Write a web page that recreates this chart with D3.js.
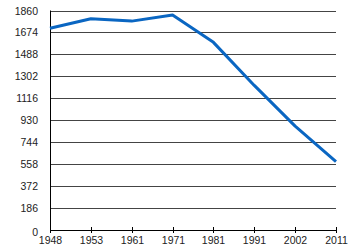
<!DOCTYPE html>
<html>
<head>
<meta charset="utf-8">
<script src="https://cdn.jsdelivr.net/npm/d3@7"></script>
<style>
	body { margin: 0; background: white; }
	text { font-family: "Liberation Sans", Arial, sans-serif; font-size: 10.5px; fill: #222; }
</style>
</head>
<body>
<div id="chart"></div>
<script>
// Census years and population values.
let years = ["1948", "1953", "1961", "1971", "1981", "1991", "2002", "2011"];
let population = [1710, 1790, 1770, 1822, 1590, 1225, 880, 580];
let yticks = [0, 186, 372, 558, 744, 930, 1116, 1302, 1488, 1674, 1860];


let width = 350, height = 250;
let margin = {top: 10.5, right: 14, bottom: 20, left: 50};

let svg = d3.select("#chart")
  .append("svg")
	.attr("width", width)
	.attr("height", height);

let x = d3.scalePoint()
  .domain(years)
  .range([margin.left, width - margin.right]);

let y = d3.scaleLinear()
  .domain([0, 1860])
  .range([height - margin.bottom, margin.top]);


// Horizontal gridlines.
svg.append("g")
	.selectAll("line")
	.data(yticks.filter(d=>d>0))
	.enter()
	.append("line")
	  .attr("x1", margin.left)
	  .attr("x2", width - margin.right)
	  .attr("y1", d=>Math.round(y(d)) + 0.5)
	  .attr("y2", d=>Math.round(y(d)) + 0.5)
	  .attr("stroke", "#444")
	  .attr("stroke-width", 1);


// Y axis labels.
svg.append("g")
	.selectAll("text")
	.data(yticks)
	.enter()
	.append("text")
	  .attr("x", 38)
	  .attr("y", d=>y(d) + (d==0 ? 6 : 4))
	  .attr("text-anchor", "end")
	  .text(d=>d);


// Axis lines.
svg.append("line")
	.attr("x1", margin.left + 0.5).attr("x2", margin.left + 0.5)
	.attr("y1", y(1860)).attr("y2", y(0))
	.attr("stroke", "black");

svg.append("line")
	.attr("x1", margin.left).attr("x2", width - margin.right)
	.attr("y1", Math.round(y(0)) + 0.5).attr("y2", Math.round(y(0)) + 0.5)
	.attr("stroke", "black");


// X axis ticks and labels.
let xg = svg.append("g")
	.selectAll("g")
	.data(years)
	.enter()
	.append("g")
	  .attr("transform", d=>`translate(${ Math.round(x(d)) + 0.5 },0)`);

xg.append("line")
	.attr("y1", y(0) - 3)
	.attr("y2", y(0) + 3)
	.attr("stroke", "black");

xg.append("text")
	.attr("y", y(0) + 14)
	.attr("text-anchor", "middle")
	.text(d=>d);


// The data line.
let line = d3.line()
  .x((d,i)=>x(years[i]))
  .y(d=>y(d));

svg.append("path")
	.datum(population)
	.attr("d", line)
	.attr("fill", "none")
	.attr("stroke", "#0a66c2")
	.attr("stroke-width", 3)
	.attr("stroke-linejoin", "round");
</script>
</body>
</html>
